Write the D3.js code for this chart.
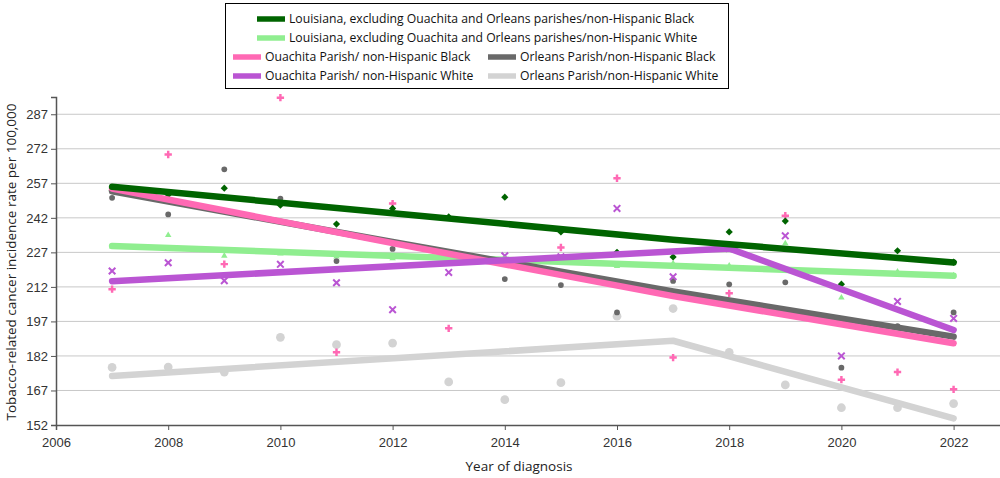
<!DOCTYPE html>
<html>
<head>
<meta charset="utf-8">
<script src="https://cdn.jsdelivr.net/npm/d3@7"></script>
<style>
  body { margin: 0; background: #fff; }
  svg { display: block; font-family: "Open Sans", "Noto Sans", sans-serif; }
</style>
</head>
<body>
<div id="container"></div>
<script>
// observed rates per year, 2007-2022 (null = not visible)
const years = [2007, 2008, 2009, 2010, 2011, 2012, 2013, 2014, 2015, 2016, 2017, 2018, 2019, 2020, 2021, 2022]
const laBlack   = [254, 252, 254.9, 247.5, 239.3, 246.1, 242.4, 251, 235.9, 227, 225, 235.9, 240.6, 213.2, 227.7, 222.8]
const laWhite   = [229.5, 234.5, 225.5, 226.5, 225.1, 224.4, 224, 223, 223, 221, 222.2, 221.2, 230.9, 207.3, 218.6, 217]
const ouaBlack  = [211, 269.5, 221.9, 294.2, 183.6, 248.2, 194, 224, 229.1, 259.2, 181.3, 209.2, 242.9, 171.7, 175, 167.5]
const ouaWhite  = [218.9, 222.5, 214.7, 221.8, 213.8, 202.1, 218.3, 225.5, 225.1, 246.1, 216.4, 228.7, 234.2, 182, 205.7, 198.3]
const orlBlack  = [250.7, 243.5, 263.1, 250.4, 223.2, 228.5, 226, 215.4, 212.8, 200.9, 214.6, 213.1, 214, 176.9, 195, 200.9]
const orlWhite  = [177, 177.2, 175, 190.1, 186.9, 187.6, 170.7, 163, 170.4, 199.3, 202.6, 183.6, 169.4, 159.5, 159.5, 161.3]

// fitted trend lines (joinpoint years + ends)
const laBlackFitYears  = [2007, 2012, 2017, 2022]
const laBlackFit       = [255.5, 244, 232.5, 222.6]
const laWhiteFitYears  = [2007, 2022]
const laWhiteFit       = [229.8, 216.8]
const ouaBlackFitYears = [2007, 2012, 2017, 2022]
const ouaBlackFit      = [254.7, 231, 208, 187.5]
const ouaWhiteFitYears = [2007, 2018, 2022]
const ouaWhiteFit      = [214.5, 228.7, 193.3]
const orlBlackFitYears = [2007, 2012, 2017, 2022]
const orlBlackFit      = [253.5, 231.5, 210, 190.4]
const orlWhiteFitYears = [2007, 2017, 2022]
const orlWhiteFit      = [173.3, 188.6, 154.9]

const xTicks = [2006, 2008, 2010, 2012, 2014, 2016, 2018, 2020, 2022]
const yTicks = [152, 167, 182, 197, 212, 227, 242, 257, 272, 287]

const series = [
    { name: 'Orleans Parish/non-Hispanic White', color: '#D3D3D3', obs: orlWhite, fx: orlWhiteFitYears, fy: orlWhiteFit, marker: 'bigcircle' },
    { name: 'Louisiana, excluding Ouachita and Orleans parishes/non-Hispanic White', color: '#90EE90', obs: laWhite, fx: laWhiteFitYears, fy: laWhiteFit, marker: 'triangle' },
    { name: 'Orleans Parish/non-Hispanic Black', color: '#696969', obs: orlBlack, fx: orlBlackFitYears, fy: orlBlackFit, marker: 'circle' },
    { name: 'Ouachita Parish/ non-Hispanic Black', color: '#FF69B4', obs: ouaBlack, fx: ouaBlackFitYears, fy: ouaBlackFit, marker: 'plus' },
    { name: 'Ouachita Parish/ non-Hispanic White', color: '#BA55D3', obs: ouaWhite, fx: ouaWhiteFitYears, fy: ouaWhiteFit, marker: 'cross' },
    { name: 'Louisiana, excluding Ouachita and Orleans parishes/non-Hispanic Black', color: '#006400', obs: laBlack, fx: laBlackFitYears, fy: laBlackFit, marker: 'diamond' }
]

const width = 1000
const height = 478
const svg = d3.select('#container').append('svg').attr('width', width).attr('height', height)

const margin = { top: 97, bottom: 53, left: 56 }

const xScale = d3.scaleLinear()
    .domain([2006, 2023])
    .range([margin.left, margin.left + 17 * 56.1])

const yScale = d3.scaleLinear()
    .domain([152, 294.5])
    .range([height - margin.bottom, margin.top])

// grid
svg.append('g')
    .selectAll('line').data(yTicks.slice(1)).enter().append('line')
    .attr('x1', margin.left).attr('x2', width)
    .attr('y1', d => yScale(d)).attr('y2', d => yScale(d))
    .attr('stroke', '#c8c8c8').attr('stroke-width', 1)

// axes
const xAxis = d3.axisBottom(xScale).tickValues(xTicks).tickFormat(d3.format('d')).tickSize(5).tickPadding(8)
const gx = svg.append('g')
    .attr('transform', `translate(0, ${height - margin.bottom})`)
    .call(xAxis)
const yAxis = d3.axisLeft(yScale).tickValues(yTicks).tickSize(5).tickPadding(3)
const gy = svg.append('g')
    .attr('transform', `translate(${margin.left}, 0)`)
    .call(yAxis)
for (const g of [gx, gy]) {
    g.select('.domain').attr('stroke', '#555').attr('stroke-width', 1.5)
    g.selectAll('.tick line').attr('stroke', '#555')
    g.selectAll('.tick text').attr('fill', '#333').style('font-size', '13px')
}
gx.select('.tick:first-of-type line').remove()

// axis titles
svg.append('text')
    .attr('x', 519).attr('y', 471)
    .attr('text-anchor', 'middle')
    .attr('fill', '#222').style('font-size', '13.5px')
    .text('Year of diagnosis')
svg.append('text')
    .attr('transform', `translate(16, 262) rotate(-90)`)
    .attr('text-anchor', 'middle')
    .attr('fill', '#222').style('font-size', '13.5px')
    .text('Tobacco-related cancer incidence rate per 100,000')

// markers
const sym = {
    diamond: d3.symbol().type(d3.symbolSquare).size(26),
    triangle: d3.symbol().type(d3.symbolTriangle).size(18),
    circle: d3.symbol().type(d3.symbolCircle).size(26),
    bigcircle: d3.symbol().type(d3.symbolCircle).size(60),
    plus: d3.symbol().type(d3.symbolCross).size(30),
    cross: d3.symbol().type(d3.symbolX).size(30)
}
series.forEach(s => {
    const pts = years.map((y, i) => [y, s.obs[i]]).filter(d => d[1] != null)
    const g = svg.append('g')
    g.selectAll('path').data(pts).enter().append('path')
        .attr('transform', d => `translate(${xScale(d[0])}, ${yScale(d[1])})` + (s.marker === 'diamond' ? ' rotate(45)' : ''))
        .attr('d', sym[s.marker])
        .attr('fill', s.marker === 'cross' ? 'none' : s.color)
        .attr('stroke', s.marker === 'cross' ? s.color : 'none')
        .attr('stroke-width', 2)
})

// trend lines
const line = d3.line().x(d => xScale(d[0])).y(d => yScale(d[1]))
series.forEach(s => {
    svg.append('path')
        .datum(s.fx.map((y, i) => [y, s.fy[i]]))
        .attr('d', line)
        .attr('fill', 'none')
        .attr('stroke', s.color)
        .attr('stroke-width', 6.5)
        .attr('stroke-linecap', 'round')
        .attr('stroke-linejoin', 'round')
})

// legend
const legend = svg.append('g')
legend.append('rect')
    .attr('x', 225.5).attr('y', 3.5).attr('width', 503).attr('height', 85)
    .attr('fill', '#fff').attr('stroke', '#000').attr('stroke-width', 1)
const legendItems = [
    { s: series[5], x: 257, y: 19 },
    { s: series[1], x: 257, y: 38 },
    { s: series[3], x: 233, y: 57 },
    { s: series[2], x: 488, y: 57 },
    { s: series[4], x: 233, y: 76 },
    { s: series[0], x: 488, y: 76 }
]
legendItems.forEach(it => {
    legend.append('line')
        .attr('x1', it.x).attr('x2', it.x + 28)
        .attr('y1', it.y).attr('y2', it.y)
        .attr('stroke', it.s.color).attr('stroke-width', 5.5)
    legend.append('text')
        .attr('x', it.x + 32).attr('y', it.y)
        .attr('dy', '0.35em')
        .attr('fill', '#111').style('font-size', '12.2px')
        .text(it.s.name)
})
</script>
</body>
</html>
